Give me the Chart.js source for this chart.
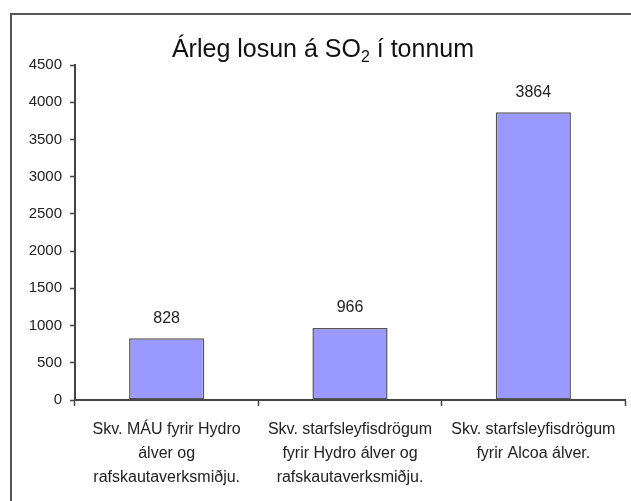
<!DOCTYPE html>
<html>
<head>
<meta charset="utf-8">
<script src="https://cdn.jsdelivr.net/npm/chart.js@4/dist/chart.umd.min.js"></script>
<style>
    html, body {
        margin: 0;
        padding: 0;
        background: #ffffff;
        overflow: hidden;
    }
    #wrap {
        position: relative;
        width: 631px;
        height: 501px;
        overflow: hidden;
    }
    /* the chart frame runs off the right and bottom edges of the picture */
    #frame {
        position: absolute;
        left: 10px;
        top: 13px;
        width: 800px;
        height: 800px;
        border: 2px solid #555;
        box-sizing: border-box;
    }
    #chart-box {
        position: absolute;
        left: 0;
        top: 0;
        width: 631px;
        height: 501px;
    }
</style>
</head>
<body>
<div id="wrap">
    <div id="frame"></div>
    <div id="chart-box"><canvas id="chart"></canvas></div>
</div>
<script>
// Data
const categories = [
    ['Skv. MÁU fyrir Hydro', 'álver og', 'rafskautaverksmiðju.'],
    ['Skv. starfsleyfisdrögum', 'fyrir Hydro álver og', 'rafskautaverksmiðju.'],
    ['Skv. starfsleyfisdrögum', 'fyrir Alcoa álver.']
];
const emissions = [828, 966, 3864];
const yMax = 4500;
const yStep = 500;

const titleParts = ['Árleg losun á SO', '2', ' í tonnum'];

const FONT = "'Liberation Sans', Arial, sans-serif";

// Title with a real subscript 2
const titlePlugin = {
    id: 'subTitle',
    afterDraw(chart) {
        const ctx = chart.ctx;
        ctx.save();
        ctx.fillStyle = '#111';
        ctx.textBaseline = 'alphabetic';
        ctx.textAlign = 'left';
        const big = '25px ' + FONT;
        const small = '16px ' + FONT;
        ctx.font = big;
        const w1 = ctx.measureText(titleParts[0]).width;
        const w3 = ctx.measureText(titleParts[2]).width;
        ctx.font = small;
        const w2 = ctx.measureText(titleParts[1]).width;
        const total = w1 + w2 + w3;
        let x = 323 - total / 2;
        const base = 57;
        ctx.font = big;
        ctx.fillText(titleParts[0], x, base);
        x += w1;
        ctx.font = small;
        ctx.fillText(titleParts[1], x, base + 5);
        x += w2;
        ctx.font = big;
        ctx.fillText(titleParts[2], x, base);
        ctx.restore();
    }
};

// Value labels above each bar
const valueLabels = {
    id: 'valueLabels',
    afterDatasetsDraw(chart) {
        const ctx = chart.ctx;
        const meta = chart.getDatasetMeta(0);
        ctx.save();
        ctx.font = '16px ' + FONT;
        ctx.fillStyle = '#222';
        ctx.textAlign = 'center';
        ctx.textBaseline = 'middle';
        meta.data.forEach(function(bar, i) {
            ctx.fillText(String(emissions[i]), bar.x, bar.y - 20);
        });
        ctx.restore();
    }
};

new Chart(document.getElementById('chart').getContext('2d'), {
    type: 'bar',
    data: {
        labels: categories,
        datasets: [{
            data: emissions,
            backgroundColor: '#9999ff',
            borderColor: '#555555',
            borderWidth: 1.5,
            borderSkipped: false,
            categoryPercentage: 1,
            barPercentage: 0.41
        }]
    },
    options: {
        responsive: true,
        maintainAspectRatio: false,
        animation: false,
        layout: {
            padding: { top: 65, right: 6, bottom: 0, left: 0 }
        },
        plugins: {
            legend: { display: false },
            title: { display: false },
            tooltip: { enabled: false }
        },
        scales: {
            x: {
                grid: {
                    offset: true,
                    drawOnChartArea: false,
                    drawTicks: true,
                    tickLength: 6,
                    tickColor: '#444',
                    tickWidth: 1.5
                },
                border: { color: '#444', width: 2 },
                ticks: {
                    color: '#222',
                    padding: 12,
                    maxRotation: 0,
                    autoSkip: false,
                    font: { family: FONT, size: 16, lineHeight: 1.5 }
                },
                afterFit(scale) {
                    scale.height = 101;
                }
            },
            y: {
                min: 0,
                max: yMax,
                ticks: {
                    stepSize: yStep,
                    color: '#222',
                    padding: 8,
                    font: { family: FONT, size: 15 },
                    callback: function(value) {
                        return String(value);
                    }
                },
                grid: {
                    drawOnChartArea: false,
                    drawTicks: true,
                    tickLength: 5,
                    tickColor: '#444',
                    tickWidth: 1.5
                },
                border: { color: '#444', width: 2 },
                afterFit(scale) {
                    scale.width = 75;
                }
            }
        }
    },
    plugins: [titlePlugin, valueLabels]
});
</script>
</body>
</html>
